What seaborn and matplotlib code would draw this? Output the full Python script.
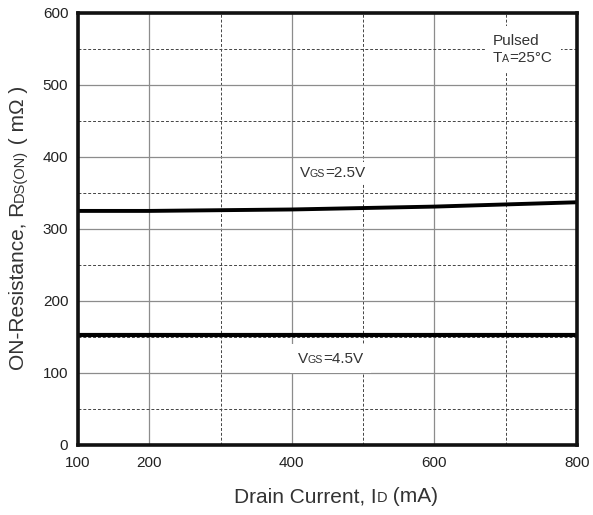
import numpy as np
import pandas as pd
import matplotlib
matplotlib.use('Agg')
import matplotlib.pyplot as plt
import seaborn as sns
from matplotlib.offsetbox import TextArea, HPacker, VPacker, AnnotationBbox

# Données
drain_current = [100, 200, 300, 400, 500, 600, 700, 800]
r_vgs_25 = [325, 325, 326, 327, 329, 331, 334, 337]
r_vgs_45 = [153, 153, 153, 153, 153, 153, 153, 153]

x_ticks = [100, 200, 400, 600, 800]
x_minor = [300, 500, 700]
y_ticks = [0, 100, 200, 300, 400, 500, 600]
y_minor = [50, 150, 250, 350, 450, 550]

sns.set_style('white')
plt.rcParams['font.family'] = ['Liberation Sans', 'DejaVu Sans']

fig = plt.figure(figsize=(5.93, 5.15), dpi=100)
ax = fig.add_axes([0.1315, 0.136, 0.8415, 0.839])

df = pd.DataFrame({'Id': drain_current, 'r25': r_vgs_25, 'r45': r_vgs_45})
sns.lineplot(data=df, x='Id', y='r25', color='black', lw=2.8, ax=ax)
sns.lineplot(data=df, x='Id', y='r45', color='black', lw=3.0, ax=ax)

ax.set_xlim(100, 800)
ax.set_ylim(0, 600)
ax.set_xticks(x_ticks)
ax.set_xticks(x_minor, minor=True)
ax.set_yticks(y_ticks)
ax.set_yticks(y_minor, minor=True)
ax.tick_params(which='both', length=0, labelsize=11, colors='#222222')
ax.tick_params(axis='x', pad=8)
ax.tick_params(axis='y', pad=7)
ax.set_xlabel('')
ax.set_ylabel('')

# Grille : pleine pour les majeures, pointillée pour les mineures
ax.set_axisbelow(True)
ax.grid(which='major', color='#8c8c8c', lw=0.9, ls='-')
ax.grid(which='minor', color='#444444', lw=0.7, ls=(0, (3, 2)))
for sp in ax.spines.values():
    sp.set_visible(True)
    sp.set_color('#111111')
    sp.set_linewidth(2.6)


def label_box(parts, size=11, sub=0.7):
    items = []
    for txt, is_sub in parts:
        fs = size * sub if is_sub else size
        items.append(TextArea(txt, textprops=dict(fontsize=fs, color='#333333')))
    return HPacker(children=items, align='baseline', pad=0, sep=0)


# Annotations avec fond blanc
ab = AnnotationBbox(label_box([('V', False), ('GS', True), ('=2.5V', False)]),
                    (411, 368), xycoords='data', box_alignment=(0, 0),
                    frameon=True, pad=0.3, fontsize=10,
                    bboxprops=dict(fc='white', ec='none'))
ax.add_artist(ab)

ab = AnnotationBbox(label_box([('V', False), ('GS', True), ('=4.5V', False)]),
                    (408, 110), xycoords='data', box_alignment=(0, 0),
                    frameon=True, pad=0.55, fontsize=10,
                    bboxprops=dict(fc='white', ec='none'))
ax.add_artist(ab)

pulsed = VPacker(children=[label_box([('Pulsed', False)]),
                           label_box([('T', False), ('A', True), ('=25°C', False)])],
                 align='left', pad=0, sep=2)
ab = AnnotationBbox(pulsed, (682, 528), xycoords='data', box_alignment=(0, 0),
                    frameon=True, pad=0.6, fontsize=10,
                    bboxprops=dict(fc='white', ec='none'))
ax.add_artist(ab)

# Titre de l'axe x
xlab = AnnotationBbox(label_box([('Drain Current, I', False), ('D', True), (' (mA)', False)],
                                size=15),
                      (0.567, 0.035), xycoords='figure fraction',
                      box_alignment=(0.5, 0.5), frameon=False)
fig.add_artist(xlab)

# Titre de l'axe y (texte pivoté, morceau par morceau)
y_x = 0.047
t1 = fig.text(y_x, 0.3, 'ON-Resistance, R', rotation=90, ha='right', va='bottom',
              fontsize=15, color='#333333')
t2 = plt.annotate('DS(ON)', xy=(1, 1), xycoords=t1, rotation=90, ha='right',
                  va='bottom', fontsize=15 * 0.7, color='#333333',
                  xytext=(-1, 0), textcoords='offset pixels', annotation_clip=False)
t3 = plt.annotate(' ( mΩ )', xy=(1, 1), xycoords=t2, rotation=90, ha='right',
                  va='bottom', fontsize=15, color='#333333',
                  xytext=(1, 0), textcoords='offset pixels', annotation_clip=False)

fig.canvas.draw()
r = fig.canvas.get_renderer()
exts = [t.get_window_extent(r) for t in (t1, t2, t3)]
lo = min(e.y0 for e in exts)
hi = max(e.y1 for e in exts)
h = fig.bbox.height
shift = (0.557 * h - (lo + hi) / 2) / h
t1.set_position((y_x, 0.3 + shift))

fig.savefig('out.png', dpi=100)
